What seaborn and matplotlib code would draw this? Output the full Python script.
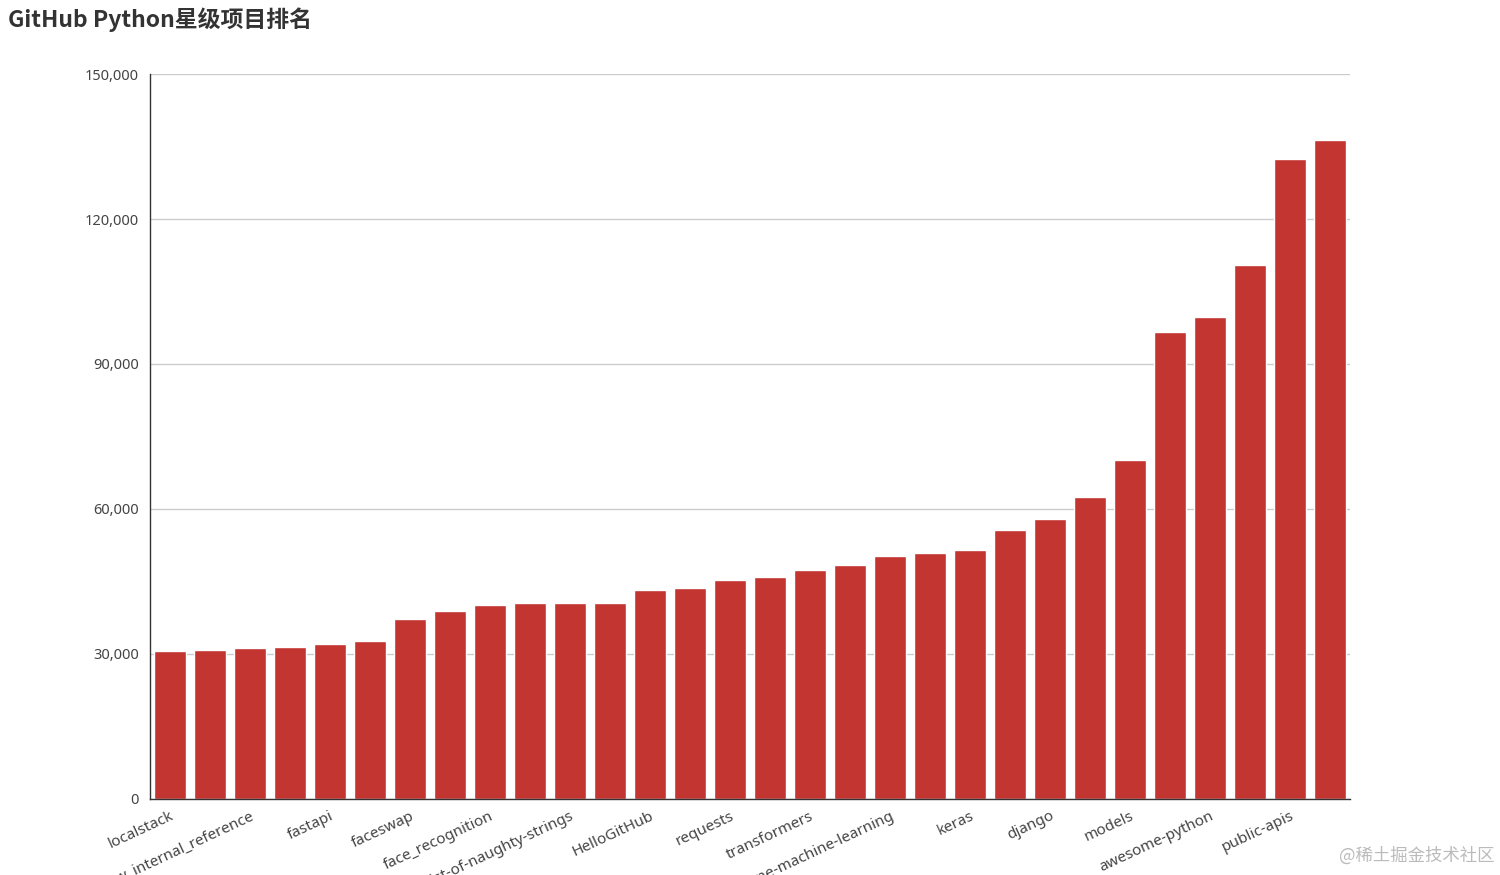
import numpy as np
import pandas as pd
import matplotlib
matplotlib.use("Agg")
import matplotlib.pyplot as plt
import seaborn as sns

# repos sorted by stars (every other name is hidden on the axis, as in the original)
repos = [
    "localstack", "PayloadsAllTheThings", "interview_internal_reference", "XX-Net",
    "fastapi", "scrapy", "faceswap", "manim",
    "face_recognition", "shadowsocks", "big-list-of-naughty-strings", "Real-Time-Voice-Cloning",
    "HelloGitHub", "core", "requests", "ansible",
    "transformers", "scikit-learn", "awesome-machine-learning", "httpie",
    "keras", "flask", "django", "thefuck",
    "models", "youtube-dl", "awesome-python", "Python",
    "public-apis", "system-design-primer",
]
stars = [
    30600, 30800, 31200, 31400,
    32100, 32700, 37200, 38900,
    40100, 40500, 40500, 40500,
    43200, 43700, 45300, 45900,
    47400, 48400, 50300, 50900,
    51500, 55700, 57900, 62500,
    70100, 96600, 99700, 110500,
    132400, 136300,
]

bar_color = "#c23531"
title_text = "GitHub Python星级项目排名"
y_ticks = [0, 30000, 60000, 90000, 120000, 150000]

df = pd.DataFrame({"repo": repos, "stars": stars})

sns.set_style("white")
plt.rcParams["font.family"] = ["Noto Sans CJK SC", "DejaVu Sans"]
latin = ["Noto Sans", "DejaVu Sans"]

fig = plt.figure(figsize=(15, 8.75), dpi=100)
ax = fig.add_axes([0.1, 0.0869, 0.8, 0.8285])

sns.barplot(data=df, x="repo", y="stars", color=bar_color, saturation=1,
            width=0.8, ax=ax, order=repos)

ax.set_xlim(-0.5, len(repos) - 0.5)
ax.set_ylim(0, 150000)
ax.set_yticks(y_ticks)
ax.set_yticklabels([f"{v:,}" for v in y_ticks], fontsize=10.5, color="#444",
                   family=latin)
ax.yaxis.grid(True, color="#cccccc", linewidth=1)
ax.set_axisbelow(True)

# labels on even bars, ticks on odd bars
ax.set_xticks(range(0, len(repos), 2))
ax.set_xticklabels(repos[::2], rotation=25, ha="right", rotation_mode="anchor",
                   fontsize=11, color="#444", family=latin)
ax.set_xticks(range(1, len(repos), 2), minor=True)
ax.tick_params(axis="x", which="major", length=0, pad=7)
ax.tick_params(axis="x", which="minor", length=5, color="#333", width=1)
ax.tick_params(axis="y", length=5, color="#333", width=1, pad=3)

for side in ["top", "right"]:
    ax.spines[side].set_visible(False)
for side in ["left", "bottom"]:
    ax.spines[side].set_color("#333")
    ax.spines[side].set_linewidth(1)

ax.set_xlabel("")
ax.set_ylabel("")

fig.text(0.005, 0.992, title_text, fontsize=16.5, fontweight="bold",
         color="#333", va="top", ha="left")
fig.text(0.996, 0.012, "@稀土掘金技术社区", fontsize=12.5, color="#bbbbbb",
         ha="right", va="bottom")

fig.savefig("out.png", dpi=100)
